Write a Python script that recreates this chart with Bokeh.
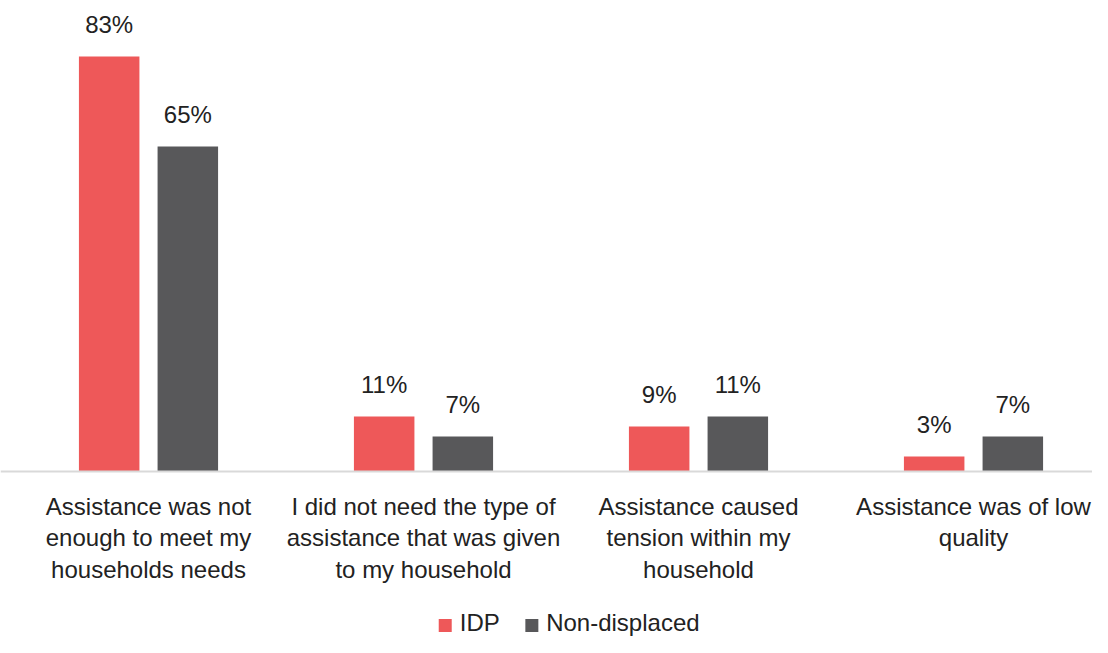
from bokeh.plotting import figure
from bokeh.models import Range1d, Span, ColumnDataSource
from bokeh.core.properties import value
from bokeh.embed import file_html
from bokeh.resources import INLINE

categories = [
    ["Assistance was not", "enough to meet my", "households needs"],
    ["I did not need the type of", "assistance that was given", "to my household"],
    ["Assistance caused", "tension within my", "household"],
    ["Assistance was of low", "quality"],
]
series_names = ["IDP", "Non-displaced"]
idp = [83, 11, 9, 3]
non_displaced = [65, 7, 11, 7]

RED = "#EE5859"
GREY = "#58585A"
FONT = "Liberation Sans"
FS = "24px"
W, H = 1092, 637
PX_PER_UNIT = 5.0
BASE = 471  # canvas px of zero line
CAT_PX = 275.0
X0 = 10.5

p = figure(width=W, height=H, output_backend="svg", toolbar_location=None,
           x_range=Range1d(-X0 / CAT_PX, (W - X0) / CAT_PX),
           y_range=Range1d(-(H - BASE) / PX_PER_UNIT, BASE / PX_PER_UNIT),
           min_border=0, min_border_left=0, min_border_right=0,
           min_border_top=0, min_border_bottom=0)
p.axis.visible = False
p.grid.visible = False
p.outline_line_color = None
p.background_fill_color = "white"
p.border_fill_color = "white"

xc = [i + 0.5 for i in range(len(categories))]
off = 0.143
bw = 0.22

src1 = ColumnDataSource(dict(x=[x - off for x in xc], top=idp,
                             lab=[f"{v}%" for v in idp],
                             ly=[v + 6.4 for v in idp]))
src2 = ColumnDataSource(dict(x=[x + off for x in xc], top=non_displaced,
                             lab=[f"{v}%" for v in non_displaced],
                             ly=[v + 6.4 for v in non_displaced]))

p.vbar(x="x", top="top", bottom=0, width=bw, source=src1, fill_color=RED, line_color=None)
p.vbar(x="x", top="top", bottom=0, width=bw, source=src2, fill_color=GREY, line_color=None)

p.add_layout(Span(location=0, dimension="width", line_color="#D9D9D9", line_width=2))

for s in (src1, src2):
    p.text(x="x", y="ly", text="lab", source=s, text_align="center",
           text_baseline="alphabetic", text_font=value(FONT),
           text_font_size=FS, text_color="#222222")

line_y = [-6.9, -13.2, -19.5]
lx, ly, lt = [], [], []
for i, lines in enumerate(categories):
    for j, t in enumerate(lines):
        lx.append(xc[i]); ly.append(line_y[j]); lt.append(t)
p.text(x=lx, y=ly, text=lt, text_align="center", text_baseline="alphabetic",
       text_font=value(FONT), text_font_size=FS, text_color="#222222")

# legend
leg_y = -30.2
p.rect(x=[1.579, 1.894], y=[-30.8, -30.8], width=13, height=13,
       width_units="screen", height_units="screen",
       fill_color=[RED, GREY], line_color=None)
p.text(x=[1.632, 1.946], y=[leg_y, leg_y], text=series_names,
       text_align="left", text_baseline="alphabetic",
       text_font=value(FONT), text_font_size=FS, text_color="#222222")

open("out.html", "w").write(file_html(p, INLINE))
